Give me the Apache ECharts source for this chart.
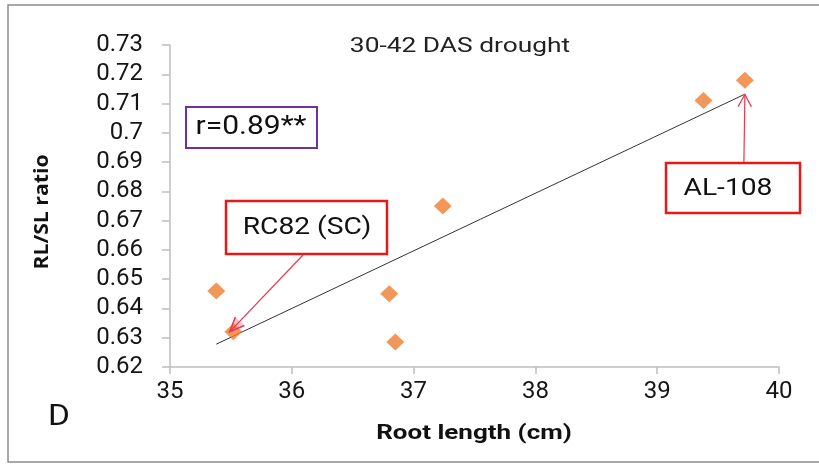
<!DOCTYPE html>
<html>
<head>
<meta charset="utf-8">
<script src="https://cdn.jsdelivr.net/npm/echarts@6/dist/echarts.min.js"></script>
<style>
html,body{margin:0;padding:0;background:#fff;}
#c{width:819px;height:464px;}
</style>
</head>
<body>
<div id="c"></div>
<script>
// Data
var rootLength = [35.38, 35.52, 36.80, 36.85, 37.24, 39.38, 39.72];
var rlslRatio  = [0.646, 0.632, 0.645, 0.6285, 0.675, 0.711, 0.718];
var trendX = [35.38, 39.72];
var trendY = [0.6278, 0.7132];
var xTicks = [35, 36, 37, 38, 39, 40];
var yTicks = [0.62, 0.63, 0.64, 0.65, 0.66, 0.67, 0.68, 0.69, 0.7, 0.71, 0.72, 0.73];
var titleText = '30-42 DAS drought';
var xName = 'Root length (cm)';
var yName = 'RL/SL ratio';
var rText = 'r=0.89**';
var panelLetter = 'D';
var label1 = 'RC82 (SC)', label1Target = [35.49, 0.632];
var label2 = 'AL-108', label2Target = [39.72, 0.7131];

var chart = echarts.init(document.getElementById('c'), null, {renderer: 'canvas'});
var axisColor = '#bfbfbf';
var font = 'Roboto';

var scatterData = rootLength.map(function (x, i) { return [x, rlslRatio[i]]; });
var trendData = trendX.map(function (x, i) { return [x, trendY[i]]; });

var option = {
  animation: false,
  backgroundColor: '#ffffff',
  grid: {left: 170, right: 40, top: 45, bottom: 97},
  xAxis: {
    type: 'value', min: xTicks[0], max: xTicks[xTicks.length - 1], interval: 1,
    splitLine: {show: false},
    axisLine: {lineStyle: {color: axisColor, width: 1.5}},
    axisTick: {show: true, inside: false, length: 7, lineStyle: {color: axisColor, width: 1.5}},
    axisLabel: {fontFamily: font, fontSize: 24, color: '#151515', margin: 13}
  },
  yAxis: {
    type: 'value', min: yTicks[0], max: yTicks[yTicks.length - 1], interval: 0.01,
    splitLine: {show: false},
    axisLine: {show: true, lineStyle: {color: axisColor, width: 1.5}},
    axisTick: {show: true, inside: false, length: 8, lineStyle: {color: axisColor, width: 1.5}},
    axisLabel: {fontFamily: font, fontSize: 24, color: '#151515', margin: 27,
      formatter: function (v) { return String(+v.toFixed(2)); }}
  },
  series: [
    {
      type: 'line', data: trendData, showSymbol: false, symbol: 'none',
      lineStyle: {color: '#333333', width: 1}, z: 2, silent: true
    },
    {
      type: 'scatter', data: scatterData, symbol: 'diamond', symbolSize: [18, 17],
      itemStyle: {color: '#ED7D31'}, z: 3
    }
  ]
};
chart.setOption(option);

function px(p) { return chart.convertToPixel({gridIndex: 0}, p); }

var t2 = px(label2Target);
var t1 = px(label1Target);
var arrowColor = '#e8384f';
var boxRed = '#e21a1a';

function arrowHead(tip, from, len, ang) {
  var dx = from[0] - tip[0], dy = from[1] - tip[1];
  var d = Math.sqrt(dx * dx + dy * dy);
  var ux = dx / d, uy = dy / d;
  var c = Math.cos(ang), s = Math.sin(ang);
  var a1 = [tip[0] + len * (ux * c - uy * s), tip[1] + len * (ux * s + uy * c)];
  var a2 = [tip[0] + len * (ux * c + uy * s), tip[1] + len * (-ux * s + uy * c)];
  return [a1, tip, a2];
}

var from2 = [t2[0] - 1, 162];
var from1 = [303, 255];

function txt(x, y, s, size, sx, opts) {
  opts = opts || {};
  return {type: 'text', x: x, y: y, scaleX: sx, rotation: opts.rotation || 0, z: 6,
    style: {text: s, fontFamily: opts.family || font, fontWeight: opts.weight || 'normal',
      fontSize: size, fill: opts.fill || '#111', textAlign: opts.align || 'center',
      textVerticalAlign: 'middle'}};
}

chart.setOption({
  graphic: [
    {type: 'rect', shape: {x: 8, y: 5, width: 820, height: 457},
      style: {fill: 'none', stroke: '#8c8c8c', lineWidth: 1.5}, z: 0, silent: true},
    txt(460, 47, titleText, 19.5, 1.35, {fill: '#222'}),
    txt(474, 434, xName, 20, 1.3, {weight: 'bold'}),
    txt(42, 212, yName, 20, 1.06, {weight: 'bold', family: '"Open Sans"', rotation: Math.PI / 2}),
    {type: 'rect', shape: {x: 186, y: 107, width: 131, height: 41},
      style: {fill: '#fff', stroke: '#7030A0', lineWidth: 2}},
    txt(251, 128, rText, 25, 1.2),
    {type: 'rect', shape: {x: 226, y: 201, width: 161, height: 53},
      style: {fill: '#fff', stroke: boxRed, lineWidth: 2.5}},
    txt(307, 228, label1, 23.5, 1.2),
    {type: 'rect', shape: {x: 666, y: 163, width: 134, height: 50},
      style: {fill: '#fff', stroke: boxRed, lineWidth: 2.5}},
    txt(728, 189, label2, 23.5, 1.2),
    {type: 'polyline', shape: {points: [from2, t2]}, style: {stroke: arrowColor, lineWidth: 1.2, fill: null}, z: 5},
    {type: 'polyline', shape: {points: arrowHead(t2, from2, 14, 0.5)}, style: {stroke: arrowColor, lineWidth: 1.2, fill: null}, z: 5},
    {type: 'polyline', shape: {points: [from1, t1]}, style: {stroke: arrowColor, lineWidth: 1.2, fill: null}, z: 5},
    {type: 'polyline', shape: {points: arrowHead(t1, from1, 16, 0.4)}, style: {stroke: arrowColor, lineWidth: 1.5, fill: 'rgba(232,56,79,0.3)'}, z: 5},
    txt(48, 418, panelLetter, 29, 1.15, {align: 'left'})
  ]
});
</script>
</body>
</html>
